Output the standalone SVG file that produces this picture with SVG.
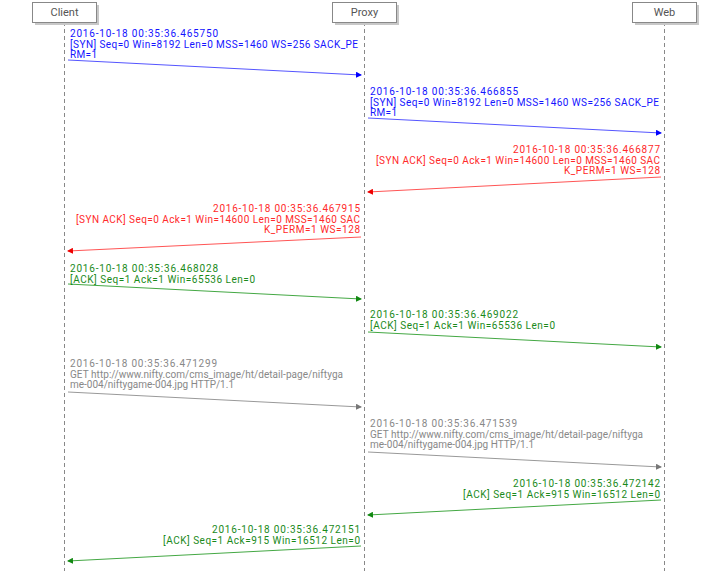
<svg xmlns="http://www.w3.org/2000/svg" width="708" height="571" viewBox="0 0 708 571">
<style>
.box{fill:#fff;stroke:#888;stroke-width:1}
.shadow{fill:#c8c8c8}
.hd{font-family:Roboto,"Noto Sans",sans-serif;font-size:11px;fill:#555;text-anchor:middle}
.life{stroke:#888;stroke-width:1;stroke-dasharray:4,3}
.t{font-family:Roboto,"Noto Sans",sans-serif;font-size:10px}
.r{text-anchor:end}
.blue{fill:#1414ff}
.red{fill:#ff2a2a}
.green{fill:#1a8a1a}
.gray{fill:#888}
.lb{stroke:#5555ff;fill:none}
.lr{stroke:#ff5555;fill:none}
.lg{stroke:#44a844;fill:none}
.lgr{stroke:#999;fill:none}
</style>
<defs>
<marker id="ab" markerWidth="6" markerHeight="6" refX="5" refY="3" orient="auto" markerUnits="userSpaceOnUse"><path d="M0,0 L6,3 L0,6 z" fill="#0000ff"/></marker>
<marker id="ar" markerWidth="6" markerHeight="6" refX="5" refY="3" orient="auto" markerUnits="userSpaceOnUse"><path d="M0,0 L6,3 L0,6 z" fill="#ee0000"/></marker>
<marker id="ag" markerWidth="6" markerHeight="6" refX="5" refY="3" orient="auto" markerUnits="userSpaceOnUse"><path d="M0,0 L6,3 L0,6 z" fill="#118811"/></marker>
<marker id="agr" markerWidth="6" markerHeight="6" refX="5" refY="3" orient="auto" markerUnits="userSpaceOnUse"><path d="M0,0 L6,3 L0,6 z" fill="#777"/></marker>
</defs>
<rect width="708" height="571" fill="#fff"/>
<g id="lifelines">
<line class="life" x1="64.5" y1="22" x2="64.5" y2="571"/>
<line class="life" x1="364.5" y1="22" x2="364.5" y2="571"/>
<line class="life" x1="664.5" y1="22" x2="664.5" y2="571"/>
</g>
<g id="client">
<rect class="shadow" x="35" y="5" width="64" height="20"/>
<rect class="box" x="32.5" y="2.5" width="64" height="20"/>
<text class="hd" x="64.5" y="16">Client</text>
</g>
<g id="proxy">
<rect class="shadow" x="335" y="5" width="64" height="20"/>
<rect class="box" x="332.5" y="2.5" width="64" height="20"/>
<text class="hd" x="364.5" y="16">Proxy</text>
</g>
<g id="web">
<rect class="shadow" x="635" y="5" width="64" height="20"/>
<rect class="box" x="632.5" y="2.5" width="64" height="20"/>
<text class="hd" x="664.5" y="16">Web</text>
</g>
<g id="connectors">
<line class="lb" x1="68" y1="60" x2="361" y2="75" marker-end="url(#ab)"/>
<line class="lb" x1="368" y1="118" x2="661" y2="133" marker-end="url(#ab)"/>
<line class="lr" x1="661" y1="177" x2="368" y2="192" marker-end="url(#ar)"/>
<line class="lr" x1="361" y1="237" x2="68" y2="251" marker-end="url(#ar)"/>
<line class="lg" x1="68" y1="284" x2="361" y2="299" marker-end="url(#ag)"/>
<line class="lg" x1="368" y1="332" x2="661" y2="347" marker-end="url(#ag)"/>
<line class="lgr" x1="68" y1="392" x2="361" y2="407" marker-end="url(#agr)"/>
<line class="lgr" x1="368" y1="452" x2="661" y2="467" marker-end="url(#agr)"/>
<line class="lg" x1="661" y1="500" x2="368" y2="515" marker-end="url(#ag)"/>
<line class="lg" x1="361" y1="546" x2="68" y2="561" marker-end="url(#ag)"/>
</g>
<g id="labels">
<text class="t blue" x="70" y="37" textLength="148" lengthAdjust="spacing">2016-10-18 00:35:36.465750</text>
<text class="t blue" x="70" y="47.5" textLength="288" lengthAdjust="spacing">[SYN] Seq=0 Win=8192 Len=0 MSS=1460 WS=256 SACK_PE</text>
<text class="t blue" x="70" y="58" textLength="27" lengthAdjust="spacing">RM=1</text>
<text class="t blue" x="370" y="95" textLength="148" lengthAdjust="spacing">2016-10-18 00:35:36.466855</text>
<text class="t blue" x="370" y="105.5" textLength="289" lengthAdjust="spacing">[SYN] Seq=0 Win=8192 Len=0 MSS=1460 WS=256 SACK_PE</text>
<text class="t blue" x="370" y="116" textLength="27" lengthAdjust="spacing">RM=1</text>
<text class="t red r" x="660" y="153" textLength="147" lengthAdjust="spacing">2016-10-18 00:35:36.466877</text>
<text class="t red r" x="660" y="163.5" textLength="284" lengthAdjust="spacing">[SYN ACK] Seq=0 Ack=1 Win=14600 Len=0 MSS=1460 SAC</text>
<text class="t red r" x="660" y="174" textLength="96" lengthAdjust="spacing">K_PERM=1 WS=128</text>
<text class="t red r" x="360" y="212" textLength="147" lengthAdjust="spacing">2016-10-18 00:35:36.467915</text>
<text class="t red r" x="360" y="222.5" textLength="284" lengthAdjust="spacing">[SYN ACK] Seq=0 Ack=1 Win=14600 Len=0 MSS=1460 SAC</text>
<text class="t red r" x="360" y="233" textLength="96" lengthAdjust="spacing">K_PERM=1 WS=128</text>
<text class="t green" x="70" y="272" textLength="148" lengthAdjust="spacing">2016-10-18 00:35:36.468028</text>
<text class="t green" x="70" y="282.5" textLength="185" lengthAdjust="spacing">[ACK] Seq=1 Ack=1 Win=65536 Len=0</text>
<text class="t green" x="370" y="318" textLength="148" lengthAdjust="spacing">2016-10-18 00:35:36.469022</text>
<text class="t green" x="370" y="328.5" textLength="185" lengthAdjust="spacing">[ACK] Seq=1 Ack=1 Win=65536 Len=0</text>
<text class="t gray" x="70" y="367" textLength="147" lengthAdjust="spacing">2016-10-18 00:35:36.471299</text>
<text class="t gray" x="70" y="377.5" textLength="273" lengthAdjust="spacing">GET http://www.nifty.com/cms_image/ht/detail-page/niftyga</text>
<text class="t gray" x="70" y="388" textLength="164" lengthAdjust="spacing">me-004/niftygame-004.jpg HTTP/1.1</text>
<text class="t gray" x="370" y="427" textLength="147" lengthAdjust="spacing">2016-10-18 00:35:36.471539</text>
<text class="t gray" x="370" y="437.5" textLength="273" lengthAdjust="spacing">GET http://www.nifty.com/cms_image/ht/detail-page/niftyga</text>
<text class="t gray" x="370" y="448" textLength="164" lengthAdjust="spacing">me-004/niftygame-004.jpg HTTP/1.1</text>
<text class="t green r" x="660" y="487" textLength="147" lengthAdjust="spacing">2016-10-18 00:35:36.472142</text>
<text class="t green r" x="660" y="497.5" textLength="197" lengthAdjust="spacing">[ACK] Seq=1 Ack=915 Win=16512 Len=0</text>
<text class="t green r" x="360" y="533" textLength="148" lengthAdjust="spacing">2016-10-18 00:35:36.472151</text>
<text class="t green r" x="360" y="543.5" textLength="197" lengthAdjust="spacing">[ACK] Seq=1 Ack=915 Win=16512 Len=0</text>
</g>
</svg>
